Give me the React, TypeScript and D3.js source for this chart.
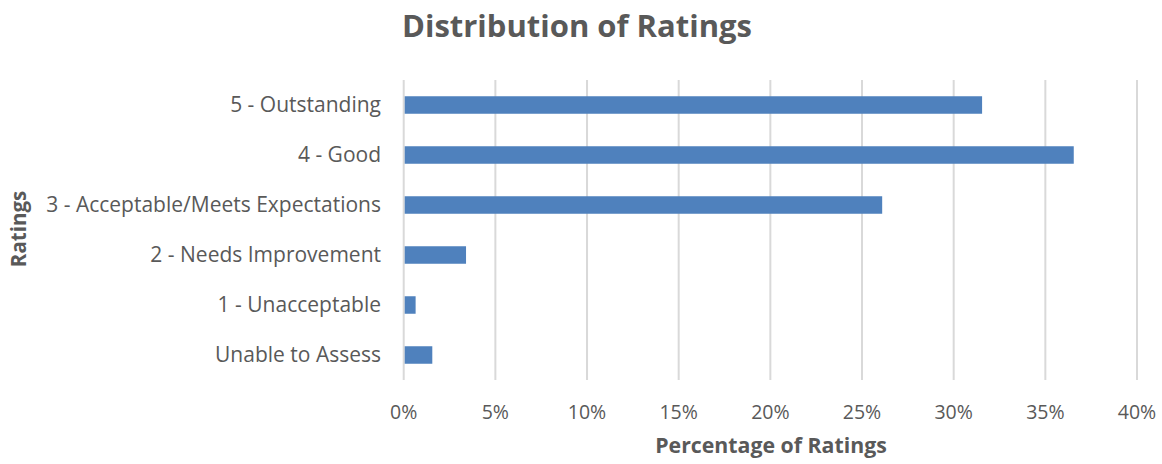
import React from "react";
import * as d3 from "d3";

const categories = [
  "5 - Outstanding",
  "4 - Good",
  "3 - Acceptable/Meets Expectations",
  "2 - Needs Improvement",
  "1 - Unacceptable",
  "Unable to Assess",
];
const values = [31.55, 36.55, 26.1, 3.4, 0.65, 1.56];
const xTicks = [0, 5, 10, 15, 20, 25, 30, 35, 40];

const W = 1162;
const H = 464;
const FONT = "'Open Sans', 'Liberation Sans', sans-serif";
const TEXT = "#595959";

export default function App() {
  const left = 403.7;
  const right = 1137;
  const top = 80;
  const bottom = 380;
  const x = d3.scaleLinear().domain([0, 40]).range([left, right]);
  const y = d3
    .scaleBand<string>()
    .domain(categories)
    .range([top, bottom])
    .paddingInner(0.65)
    .paddingOuter(0.325);

  return (
    <svg
      width={W}
      height={H}
      style={{ position: "absolute", left: 0, top: 0, background: "#fff" }}
      fontFamily={FONT}
    >
      <text x={577} y={37} textAnchor="middle" fontSize={31} fontWeight={700} fill={TEXT}>
        Distribution of Ratings
      </text>
      {xTicks.map((t) => (
        <line
          key={"g" + t}
          x1={x(t)}
          x2={x(t)}
          y1={top}
          y2={bottom}
          stroke="#d9d9d9"
          strokeWidth={2}
        />
      ))}
      {categories.map((c, i) => (
        <rect
          key={c}
          x={x(0) + 1}
          y={y(c)}
          width={x(values[i]) - x(0) - 1}
          height={y.bandwidth()}
          fill="#4f81bd"
        />
      ))}
      {categories.map((c) => (
        <text
          key={"l" + c}
          x={381}
          y={(y(c) as number) + y.bandwidth() / 2}
          dy="0.35em"
          textAnchor="end"
          fontSize={21}
          fill={TEXT}
        >
          {c}
        </text>
      ))}
      {xTicks.map((t) => (
        <text
          key={"t" + t}
          x={x(t)}
          y={419}
          textAnchor="middle"
          fontSize={19.5}
          fill={TEXT}
        >
          {t + "%"}
        </text>
      ))}
      <text x={771} y={453} textAnchor="middle" fontSize={21.3} fontWeight={700} fill={TEXT}>
        Percentage of Ratings
      </text>
      <text
        transform="translate(26,229) rotate(-90)"
        textAnchor="middle"
        fontSize={20.5}
        fontWeight={700}
        fill={TEXT}
      >
        Ratings
      </text>
    </svg>
  );
}
